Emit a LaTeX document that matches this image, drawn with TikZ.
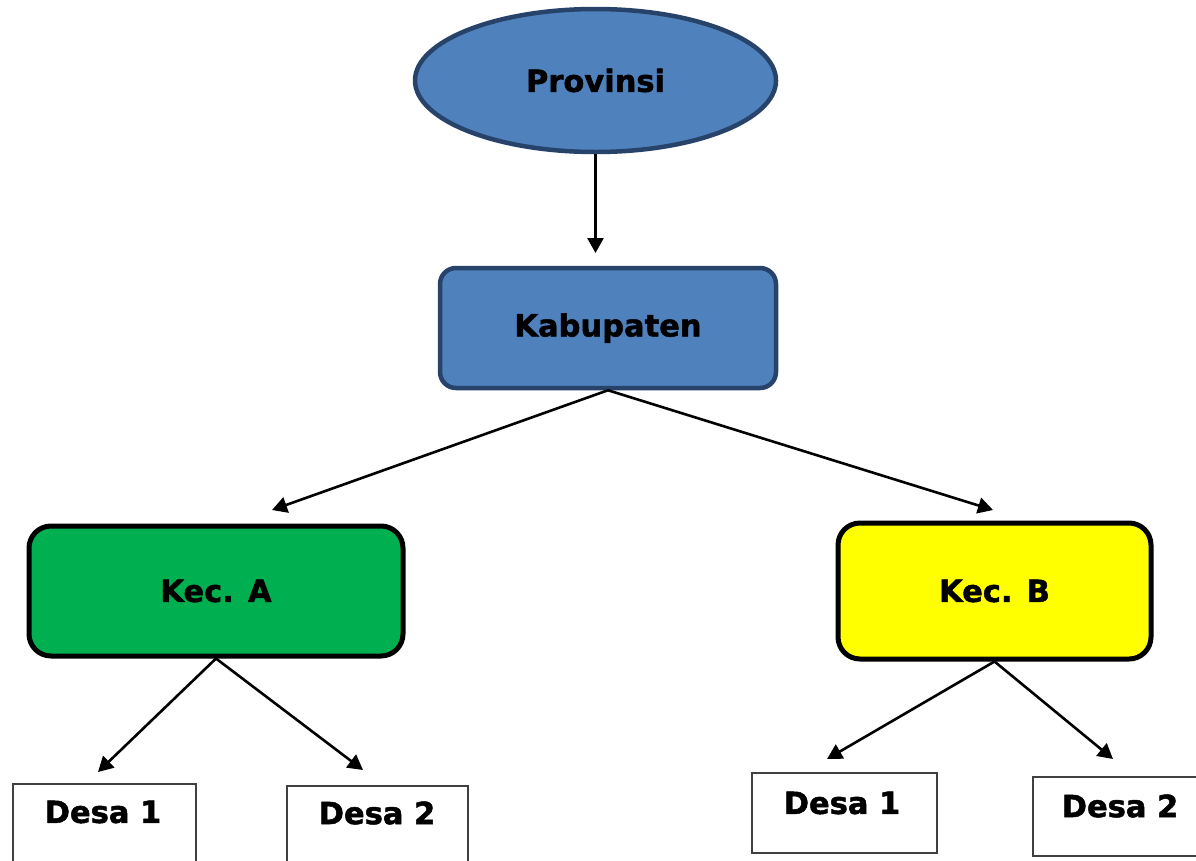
\documentclass[tikz,border=0pt]{standalone}
\usepackage{fontspec}
\setmainfont{DejaVu Sans}[BoldFeatures={FakeBold=1.6}]
\usetikzlibrary{shapes.geometric,arrows.meta}
\definecolor{ofblue}{HTML}{4F81BD}
\definecolor{ofdark}{HTML}{27436A}
\definecolor{ofgreen}{HTML}{00B050}
\definecolor{ofyellow}{HTML}{FFFF00}
\tikzset{
  lbl/.style={font=\bfseries\fontsize{30.5}{36}\selectfont, inner sep=0pt},
  arr/.style={line width=2.6pt, -{Triangle[length=15pt,width=16pt]}},
  provshape/.style={ellipse, draw=ofdark, fill=ofblue, line width=4.5pt, minimum width=361pt, minimum height=143pt, inner sep=0pt},
  kabshape/.style={rectangle, rounded corners=16pt, draw=ofdark, fill=ofblue, line width=4.5pt, minimum width=336pt, minimum height=120pt, inner sep=0pt},
  kecshape/.style={rectangle, rounded corners=22pt, draw=black, line width=5pt, inner sep=0pt},
  desashape/.style={rectangle, draw=black!75, line width=1.6pt, inner sep=0pt, anchor=north west},
}
\begin{document}
\begin{tikzpicture}[x=1pt,y=-1pt]
\useasboundingbox (0,0) rectangle (1196,860);
\clip (0,0) rectangle (1196,860);
\fill[white] (0,0) rectangle (1196,860);

\node[provshape] (prov) at (595.5,80.5) {};
\node[lbl] (provt) at (595.5,80.5) {Provinsi};

\node[kabshape] (kab) at (608,328) {};
\node[lbl] (kabt) at (608,328) {Kabupaten};

\node[kecshape, fill=ofgreen, minimum width=374pt, minimum height=130pt] (keca) at (216,591) {};
\node[lbl] (kecat) at (216,591) {Kec. A};

\node[kecshape, fill=ofyellow, minimum width=313pt, minimum height=136pt] (kecb) at (994.5,591) {};
\node[lbl] (kecbt) at (994.5,591) {Kec. B};

\node[desashape, minimum width=183pt, minimum height=110pt] (d1a) at (12,783) {};
\node[lbl] (d1at) at (103,812) {Desa 1};
\node[desashape, minimum width=181pt, minimum height=110pt] (d2a) at (286,785) {};
\node[lbl] (d2at) at (377,813) {Desa 2};
\node[desashape, minimum width=185pt, minimum height=80pt] (d1b) at (751,772) {};
\node[lbl] (d1bt) at (842,803) {Desa 1};
\node[desashape, minimum width=175pt, minimum height=79pt] (d2b) at (1032,776) {};
\node[lbl] (d2bt) at (1120,806) {Desa 2};

\coordinate (tkab) at (595.5,253);
\coordinate (tkeca) at (272,510);
\coordinate (tkecb) at (993,510);
\coordinate (td1a) at (98,772);
\coordinate (td2a) at (363,770);
\coordinate (td1b) at (827,759);
\coordinate (td2b) at (1113,759);

\draw[arr] (prov.south) -- (tkab);
\draw[arr] (kab.south) -- (tkeca);
\draw[arr] (kab.south) -- (tkecb);
\draw[arr] (keca.south) -- (td1a);
\draw[arr] (keca.south) -- (td2a);
\draw[arr] (kecb.south) -- (td1b);
\draw[arr] (kecb.south) -- (td2b);
\end{tikzpicture}
\end{document}
